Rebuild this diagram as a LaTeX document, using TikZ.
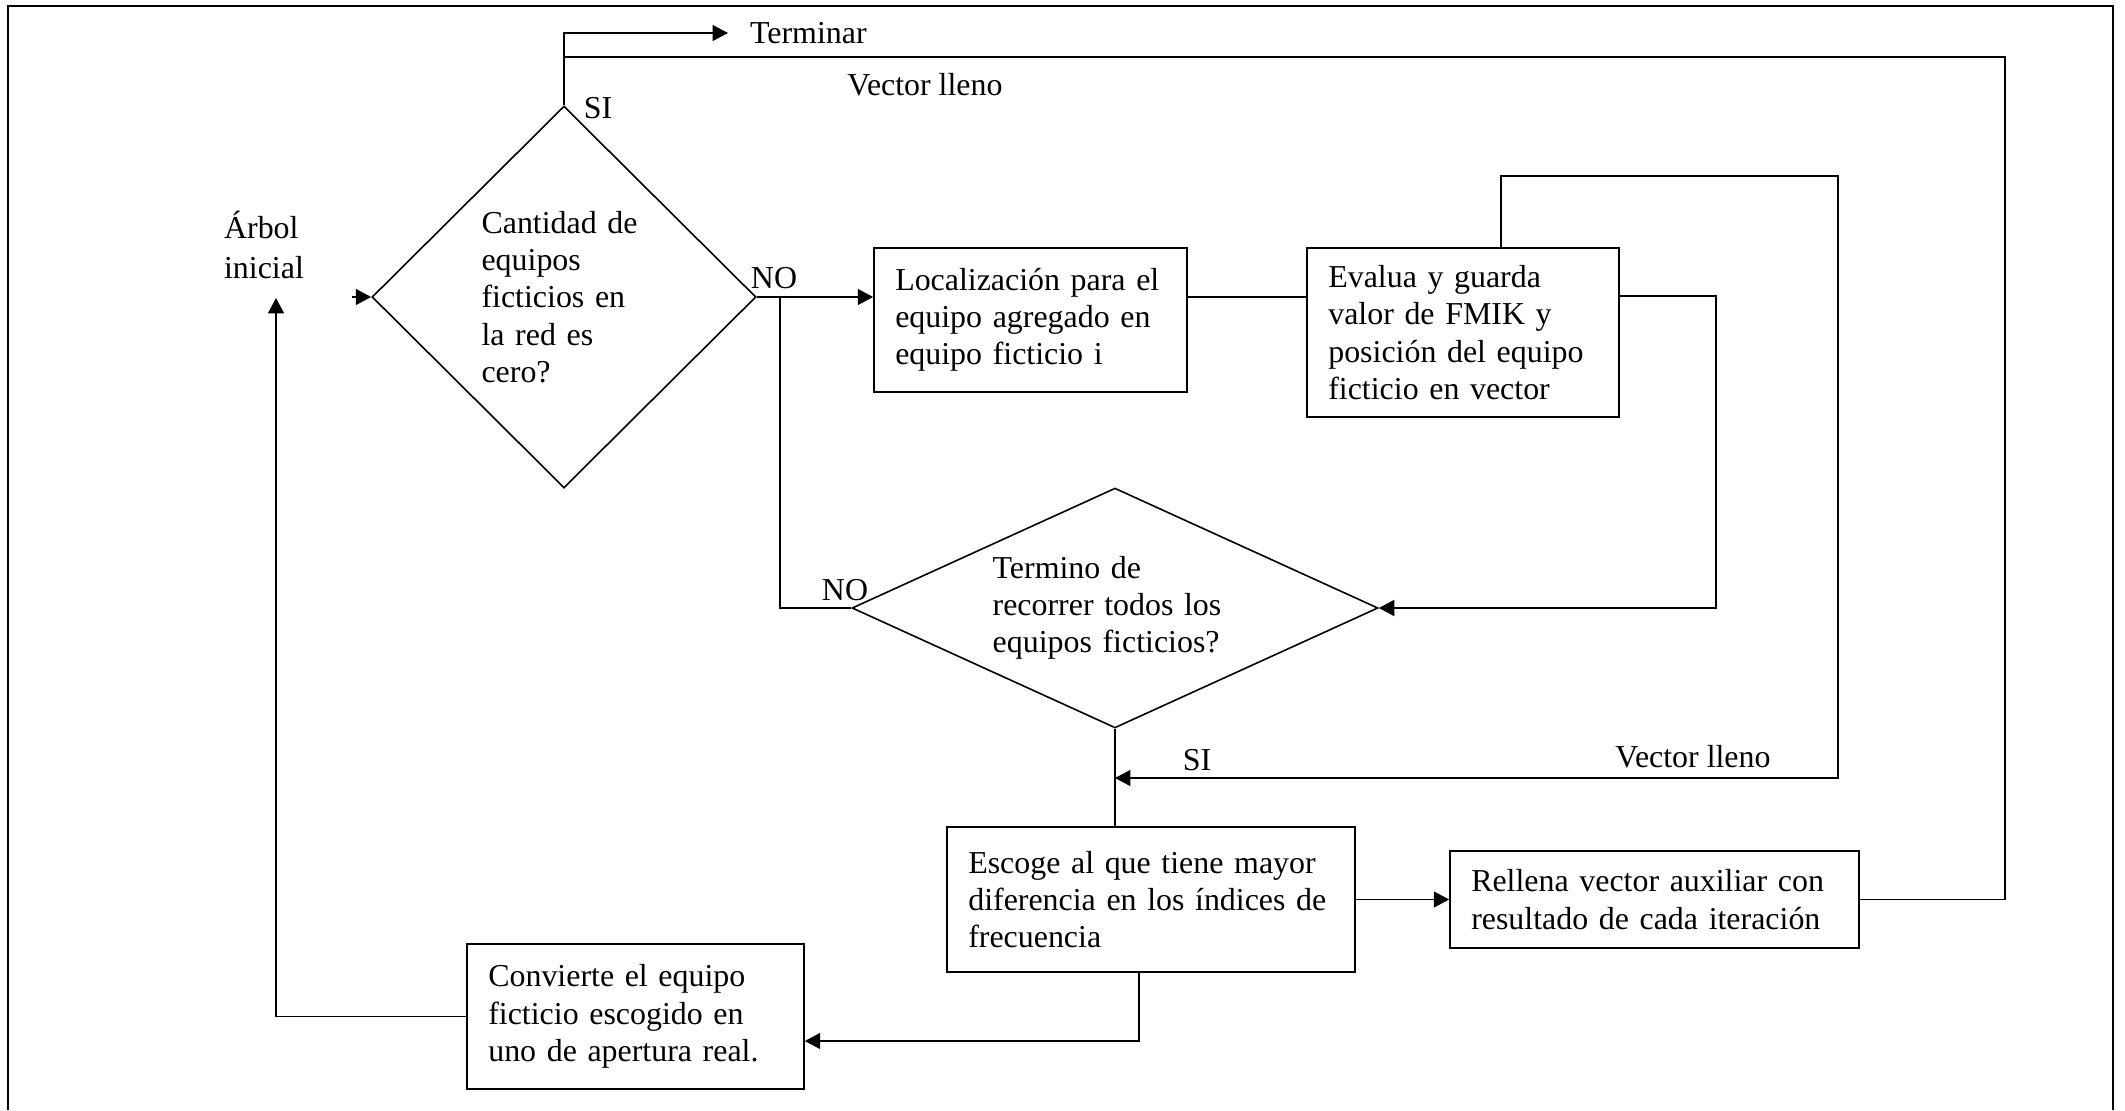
\documentclass[tikz,border=0pt]{standalone}
\usepackage{fontspec}
\setmainfont{Liberation Serif}
\usetikzlibrary{arrows.meta,shapes.geometric}
\tikzset{
  >={Triangle[length=5.8pt,width=6pt]},
  lab/.style={inner sep=2pt},
  caja/.style 2 args={draw,align=left,inner xsep=8pt,inner ysep=0pt,
    text width=#1,minimum height=#2},
  decision/.style 2 args={draw,diamond,inner sep=0pt,align=left,
    minimum width=#1,minimum height=#2}
}

\begin{document}
\begin{tikzpicture}[x=0.376pt,y=-0.376pt, line width=0.6pt,
    every node/.style={font=\fontsize{12}{14}\selectfont}]
  \useasboundingbox (0,0) rectangle (2125,1110);
  %--- Marco -------------------------------------------------------------------
  \draw[line width=0.9pt] (8,1110) -- (8,6) -- (2113,6) -- (2113,1110);

  %--- Nodos -------------------------------------------------------------------
  \node[decision={144.4pt}{143.6pt},text width=62pt,aspect=1] (d1) at (564,297)
    {Cantidad de\\ equipos\\ ficticios en\\ la red es\\ cero?};
  \node[caja={101.7pt}{54.1pt}] (loc) at (1030.5,320)
    {Localización para el\\ equipo agregado en\\ equipo ficticio i};
  \node[caja={101.3pt}{63.5pt}] (eva) at (1463,332.5)
    {Evalua y guarda\\ valor de FMIK y\\ posición del equipo\\ ficticio en vector};
  \node[decision={197.8pt}{90.2pt},text width=92pt,aspect=2.2] (d2) at (1115,608)
    {Termino de\\ recorrer todos los\\ equipos ficticios?};
  \node[caja={137.4pt}{54.5pt}] (esc) at (1151,899.5)
    {Escoge al que tiene mayor\\ diferencia en los índices de\\ frecuencia};
  \node[caja={137.8pt}{36.5pt}] (rell) at (1654.5,899.5)
    {Rellena vector auxiliar con\\ resultado de cada iteración};
  \node[caja={110.7pt}{54.5pt}] (conv) at (635.5,1016.5)
    {Convierte el equipo\\ ficticio escogido en\\ uno de apertura real.};

  %--- Etiquetas ---------------------------------------------------------------
  \node[lab,align=left,anchor=west] (arbol) at (218,245) {Árbol\\[1pt] inicial};
  \node[lab,anchor=west,inner xsep=8pt] (term) at (728,33) {Terminar};
  \node[lab] (si1) at (598,108) {SI};
  \node[lab] (vl1) at (925,85) {Vector lleno};
  \node[lab] (no1) at (774,278) {NO};
  \node[lab] (no2) at (845,590) {NO};
  \node[lab] (si2) at (1197,760) {SI};
  \node[lab] (vl2) at (1693,757) {Vector lleno};

  %--- Puntos de quiebre -------------------------------------------------------
  \coordinate (ent) at (352,297);
  \coordinate (ini) at (276,298);
  \coordinate (jno) at (780,297);
  \coordinate (c-tr) at (2005,57);
  \coordinate (c-er) at (1716,296);
  \coordinate (c-et) at (1501,176);
  \coordinate (c-vl) at (1838,176);
  \coordinate (c-si) at (1115,778);
  \coordinate (c-eb) at (1139,1041);

  %--- Conectores --------------------------------------------------------------
  \draw[->] (ent) -- (d1.west);
  \draw[->] (conv.west) -| (ini);
  \draw[->] (d1.north) |- (term.west);
  \draw (rell.east) -| (c-tr) -- (d1.north |- c-tr);
  \draw[->] (d1.east) -- (d1.east -| loc.west);
  \draw (jno) |- (d2.west);
  \draw (loc.east |- jno) -- (eva.west |- jno);
  \draw[->] (eva.east |- c-er) -- (c-er) |- (d2.east);
  \draw[->] (c-et |- eva.north) -- (c-et) -- (c-vl) |- (c-si);
  \draw (d2.south) -- (d2.south |- esc.north);
  \draw[->] (esc.east) -- (rell.west);
  \draw[->] (c-eb |- esc.south) -- (c-eb) -- (conv.east |- c-eb);

\end{tikzpicture}
\end{document}
